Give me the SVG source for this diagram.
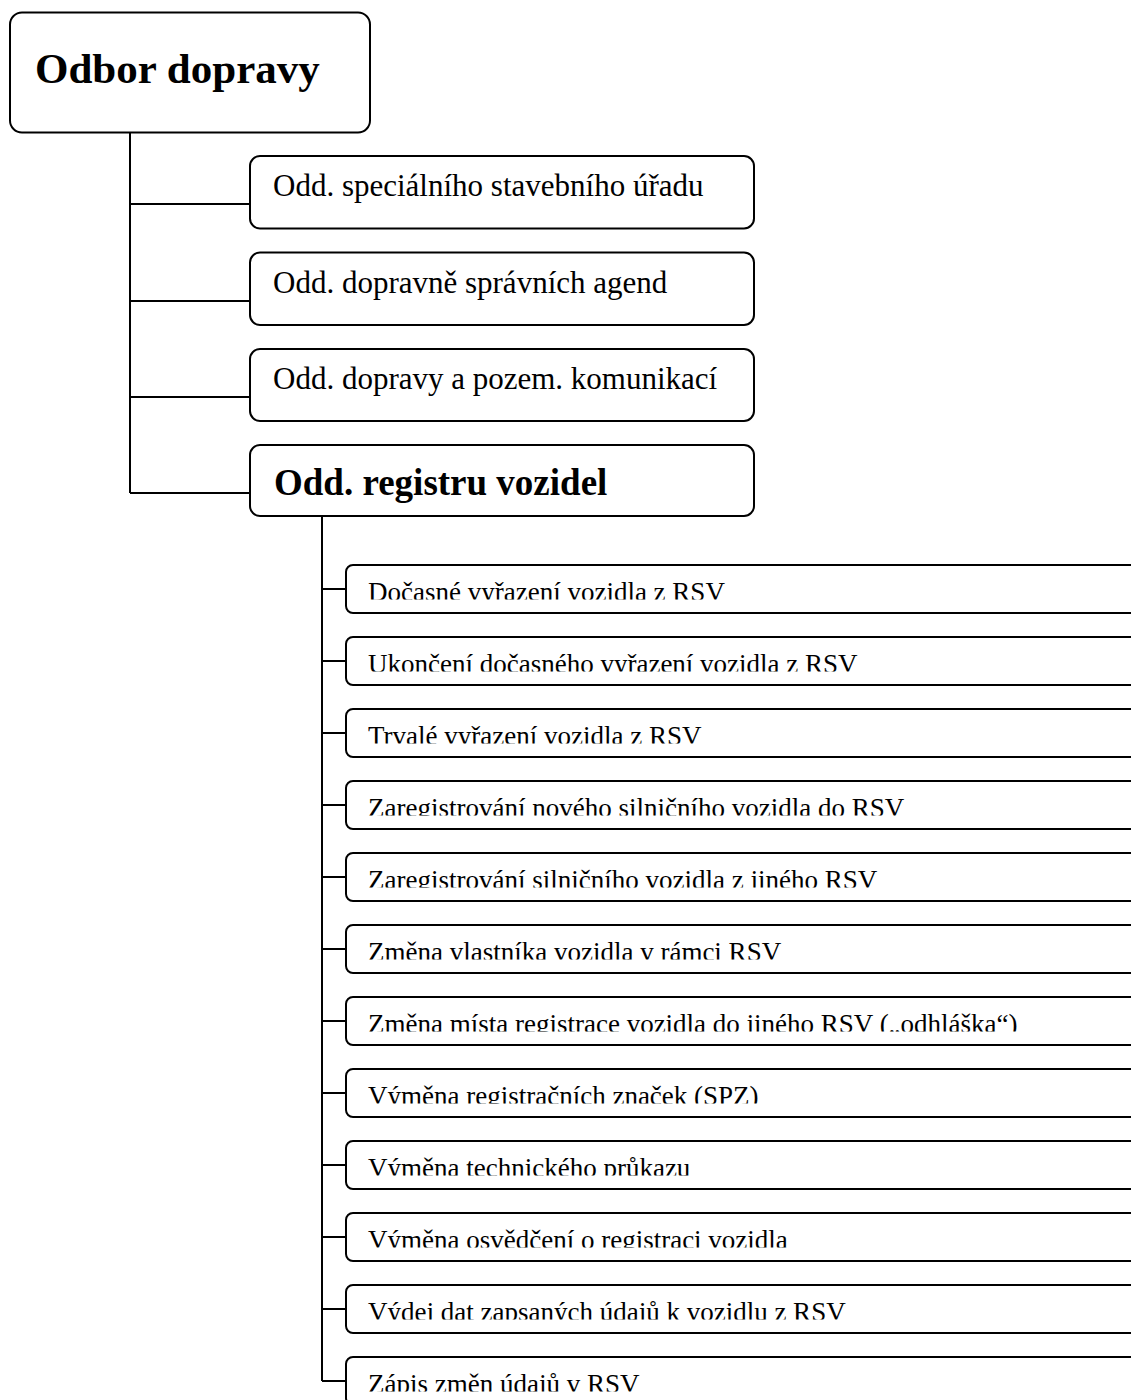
<svg xmlns="http://www.w3.org/2000/svg" width="1131" height="1400" viewBox="0 0 1131 1400">
  <style>
    .box { fill: #ffffff; stroke: #000000; stroke-width: 2; }
    .wire { fill: none; stroke: #000000; stroke-width: 2; }
    .t { font-family: "Liberation Serif", "Times New Roman", serif; fill: #000000; }
    .head { font-size: 43px; font-weight: bold; }
    .sub { font-size: 37px; font-weight: bold; }
    .l2 { font-size: 31px; }
    .l3 { font-size: 27px; }
  </style>
  <defs>
    <!-- text areas of the service boxes: overflowing lines are cut at the inner margin -->
    <clipPath id="c1"><rect x="346" y="565" width="800" height="34.5"/></clipPath>
    <clipPath id="c2"><rect x="346" y="637" width="800" height="34.5"/></clipPath>
    <clipPath id="c3"><rect x="346" y="709" width="800" height="34.5"/></clipPath>
    <clipPath id="c4"><rect x="346" y="781" width="800" height="34.5"/></clipPath>
    <clipPath id="c5"><rect x="346" y="853" width="800" height="34.5"/></clipPath>
    <clipPath id="c6"><rect x="346" y="925" width="800" height="34.5"/></clipPath>
    <clipPath id="c7"><rect x="346" y="997" width="800" height="34.5"/></clipPath>
    <clipPath id="c8"><rect x="346" y="1069" width="800" height="34.5"/></clipPath>
    <clipPath id="c9"><rect x="346" y="1141" width="800" height="34.5"/></clipPath>
    <clipPath id="c10"><rect x="346" y="1213" width="800" height="34.5"/></clipPath>
    <clipPath id="c11"><rect x="346" y="1285" width="800" height="34.5"/></clipPath>
    <clipPath id="c12"><rect x="346" y="1357" width="800" height="34.5"/></clipPath>
  </defs>

  <!-- connectors -->
  <g id="connectors">
    <path class="wire" d="M130,132 V493 M130,204 H250 M130,301 H250 M130,397 H250 M130,493 H250"/>
    <path class="wire" d="M322,516 V1381
      M322,589 H346 M322,661 H346 M322,733 H346 M322,805 H346
      M322,877 H346 M322,949 H346 M322,1021 H346 M322,1093 H346
      M322,1165 H346 M322,1237 H346 M322,1309 H346 M322,1381 H346"/>
  </g>

  <!-- department -->
  <g id="odbor-dopravy">
    <rect class="box" x="10" y="12.5" width="360" height="120" rx="12"/>
    <text class="t head" x="35" y="83">Odbor dopravy</text>
  </g>

  <!-- sections -->
  <g id="odd-stavebni-urad">
    <rect class="box" x="250" y="156" width="504" height="72.5" rx="10"/>
    <text class="t l2" x="273" y="196">Odd. speciálního stavebního úřadu</text>
  </g>
  <g id="odd-spravni-agendy">
    <rect class="box" x="250" y="252.5" width="504" height="72.5" rx="10"/>
    <text class="t l2" x="273" y="292.5">Odd. dopravně správních agend</text>
  </g>
  <g id="odd-pozem-komunikace">
    <rect class="box" x="250" y="349" width="504" height="72" rx="10"/>
    <text class="t l2" x="273" y="389">Odd. dopravy a pozem. komunikací</text>
  </g>
  <g id="odd-registr-vozidel">
    <rect class="box" x="250" y="445" width="504" height="71" rx="10"/>
    <text class="t sub" x="274" y="495">Odd. registru vozidel</text>
  </g>

  <!-- services of the vehicle register -->
  <g id="sluzba-01">
    <rect class="box" x="346" y="565" width="800" height="48" rx="7"/>
    <text class="t l3" x="368" y="601" clip-path="url(#c1)">Dočasné vyřazení vozidla z RSV</text>
  </g>
  <g id="sluzba-02">
    <rect class="box" x="346" y="637" width="800" height="48" rx="7"/>
    <text class="t l3" x="368" y="673" clip-path="url(#c2)">Ukončení dočasného vyřazení vozidla z RSV</text>
  </g>
  <g id="sluzba-03">
    <rect class="box" x="346" y="709" width="800" height="48" rx="7"/>
    <text class="t l3" x="368" y="745" clip-path="url(#c3)">Trvalé vyřazení vozidla z RSV</text>
  </g>
  <g id="sluzba-04">
    <rect class="box" x="346" y="781" width="800" height="48" rx="7"/>
    <text class="t l3" x="368" y="817" clip-path="url(#c4)">Zaregistrování nového silničního vozidla do RSV</text>
  </g>
  <g id="sluzba-05">
    <rect class="box" x="346" y="853" width="800" height="48" rx="7"/>
    <text class="t l3" x="368" y="889" clip-path="url(#c5)">Zaregistrování silničního vozidla z jiného RSV</text>
  </g>
  <g id="sluzba-06">
    <rect class="box" x="346" y="925" width="800" height="48" rx="7"/>
    <text class="t l3" x="368" y="961" clip-path="url(#c6)">Změna vlastníka vozidla v rámci RSV</text>
  </g>
  <g id="sluzba-07">
    <rect class="box" x="346" y="997" width="800" height="48" rx="7"/>
    <text class="t l3" x="368" y="1033" clip-path="url(#c7)">Změna místa registrace vozidla do jiného RSV („odhláška“)</text>
  </g>
  <g id="sluzba-08">
    <rect class="box" x="346" y="1069" width="800" height="48" rx="7"/>
    <text class="t l3" x="368" y="1105" clip-path="url(#c8)">Výměna registračních značek (SPZ)</text>
  </g>
  <g id="sluzba-09">
    <rect class="box" x="346" y="1141" width="800" height="48" rx="7"/>
    <text class="t l3" x="368" y="1177" clip-path="url(#c9)">Výměna technického průkazu</text>
  </g>
  <g id="sluzba-10">
    <rect class="box" x="346" y="1213" width="800" height="48" rx="7"/>
    <text class="t l3" x="368" y="1249" clip-path="url(#c10)">Výměna osvědčení o registraci vozidla</text>
  </g>
  <g id="sluzba-11">
    <rect class="box" x="346" y="1285" width="800" height="48" rx="7"/>
    <text class="t l3" x="368" y="1321" clip-path="url(#c11)">Výdej dat zapsaných údajů k vozidlu z RSV</text>
  </g>
  <g id="sluzba-12">
    <rect class="box" x="346" y="1357" width="800" height="48" rx="7"/>
    <text class="t l3" x="368" y="1393" clip-path="url(#c12)">Zápis změn údajů v RSV</text>
  </g>
</svg>
